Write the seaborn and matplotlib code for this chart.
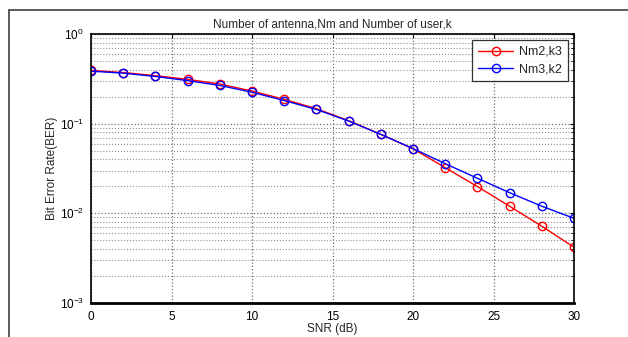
import numpy as np
import pandas as pd
import seaborn as sns
import matplotlib
matplotlib.use("Agg")
import matplotlib.pyplot as plt
from matplotlib.lines import Line2D
from matplotlib.ticker import LogLocator, NullFormatter

snr = [0, 2, 4, 6, 8, 10, 12, 14, 16, 18, 20, 22, 24, 26, 28, 30]
ber_nm2_k3 = [0.392, 0.372, 0.343, 0.312, 0.277, 0.231, 0.187, 0.147, 0.108, 0.076,
              0.0525, 0.0323, 0.0199, 0.0120, 0.00718, 0.00419]
ber_nm3_k2 = [0.385, 0.366, 0.336, 0.302, 0.267, 0.224, 0.181, 0.144, 0.107, 0.076,
              0.0528, 0.0358, 0.0246, 0.0170, 0.0120, 0.00881]
labels = ["Nm2,k3", "Nm3,k2"]
colors = ["#ff0000", "#0000ff"]

df = pd.concat([
    pd.DataFrame({"SNR": snr, "BER": ber_nm2_k3, "series": labels[0]}),
    pd.DataFrame({"SNR": snr, "BER": ber_nm3_k2, "series": labels[1]}),
])

sns.set_style("white")
plt.rcParams["font.family"] = ["Liberation Sans", "DejaVu Sans"]

fig = plt.figure(figsize=(6.28, 3.37), dpi=100)
ax = fig.add_axes([91/628, 1-303/337, (574-91)/628, (303-34)/337])

sns.lineplot(data=df, x="SNR", y="BER", hue="series", palette=colors, ax=ax,
             marker="o", markersize=6, markerfacecolor="none", markeredgewidth=1.0,
             linewidth=1.0, legend=True)
for line in ax.get_lines():
    line.set_markeredgecolor(line.get_color())

ax.set_yscale("log")
ax.set_xlim(0, 30)
ax.set_ylim(1e-3, 1)
ax.set_xticks([0, 5, 10, 15, 20, 25, 30])
ax.set_yticks([1e-3, 1e-2, 1e-1, 1])
ax.yaxis.set_minor_locator(LogLocator(base=10, subs=np.arange(2, 10)))
ax.yaxis.set_minor_formatter(NullFormatter())

ax.grid(True, which="major", color="#707070", linestyle=":", linewidth=0.9)
ax.grid(True, which="minor", axis="y", color="#909090", linestyle=":", linewidth=0.8)
ax.tick_params(which="both", direction="in", top=True, right=True, labelsize=8.5, colors="black")
ax.tick_params(axis="x", which="major", pad=6)
ax.tick_params(axis="y", which="major", pad=5)
ax.tick_params(which="major", length=3, width=0.8)
ax.tick_params(which="minor", length=2, width=0.6)
for s in ax.spines.values():
    s.set_color("black")
    s.set_linewidth(1.2)
ax.spines["bottom"].set_linewidth(2.0)

ax.set_title("Number of antenna,Nm and Number of user,k", fontsize=8.5, pad=5)
ax.set_xlabel("SNR (dB)", fontsize=8.5, labelpad=0)
ax.set_ylabel("Bit Error Rate(BER)", fontsize=8.5, labelpad=1)

handles = [Line2D([], [], color=c, marker="o", markerfacecolor="none", markeredgecolor=c,
                  markersize=6, linewidth=1.0) for c in colors]
leg = ax.legend(handles, labels, loc="upper right", fontsize=9, frameon=True,
                fancybox=False, edgecolor="black", borderaxespad=0.5,
                handlelength=2.8, handletextpad=0.5, borderpad=0.45, labelspacing=0.45)
leg.get_frame().set_linewidth(0.9)

fig.add_artist(Line2D([9/628, 1], [1-10/337, 1-10/337], color="#404040", linewidth=1.2,
                      transform=fig.transFigure))
fig.add_artist(Line2D([9/628, 9/628], [0, 1-10/337], color="#404040", linewidth=1.2,
                      transform=fig.transFigure))

fig.savefig("out.png", dpi=100)
